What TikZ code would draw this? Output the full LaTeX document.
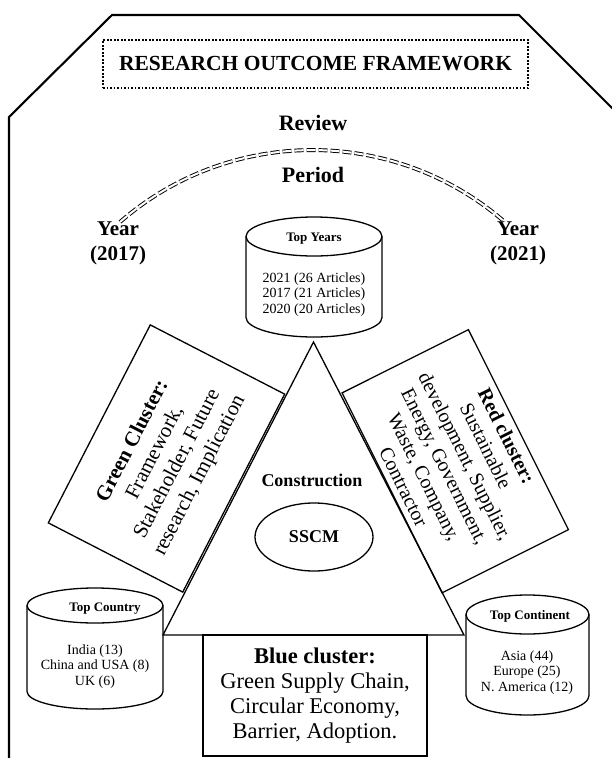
\documentclass[tikz,border=0pt]{standalone}
\usepackage{fontspec}
\setmainfont{Liberation Serif}
\usetikzlibrary{shapes.geometric}
\newcommand\fsz[2]{\fontsize{#1}{#2}\selectfont}
\newcommand\mycyl[6]{%
  \draw[outline] (#2-#5,#3) -- (#2-#5,#4) arc[start angle=180,end angle=0,x radius=#5,y radius=#6] -- (#2+#5,#3);
  \draw[outline] (#2,#3) ellipse[x radius=#5,y radius=#6];
  \coordinate (#1) at (#2,#3);}
\begin{document}
\begin{tikzpicture}[x=1pt,y=-1pt,
  frame/.style={line width=2.1pt, line join=miter},
  outline/.style={line width=1.3pt},
  titlebox/.style={draw, line width=1.7pt, dash pattern=on 1.7pt off 1.8pt, minimum width=425pt, minimum height=48pt, inner sep=0pt},
  arcline/.style={double, double distance=2pt, line width=0.95pt, dash pattern=on 9pt off 3pt},
  rectbox/.style={draw, line width=1.3pt, align=center, inner sep=0pt},
  bigbold/.style={font=\fsz{22}{25}\bfseries, align=center, inner sep=0pt},
  yearlbl/.style={font=\fsz{21}{25}\bfseries, align=center, inner sep=0pt},
  cyltitle/.style={font=\fsz{13}{15}\bfseries, inner sep=0pt},
  cyltext/.style={font=\fsz{14}{15.5}, align=center, inner sep=0pt}]
\useasboundingbox (0,0) rectangle (612,758);
\clip (0,0) rectangle (612,758);
% outer frame
\draw[frame] (9,765) -- (9,117) -- (112,15) -- (519,15) -- (622,118);
% title
\node[titlebox, font=\fsz{21.5}{24}\bfseries] (title) at (315.5,64) {RESEARCH OUTCOME FRAMEWORK};
% review period
\node[bigbold] (review) at (313,123) {Review};
\node[bigbold] (period) at (313,175) {Period};
\coordinate (arcL) at (120,222);
\draw[arcline] (arcL) arc[start angle=229, end angle=311, radius=293.3] coordinate (arcR);
\node[yearlbl] (yearL) at (118,243) {Year\\(2017)};
\node[yearlbl] (yearR) at (518,243) {Year\\(2021)};
% top years cylinder
\mycyl{cylY}{314}{236.5}{317.5}{68}{19.5}
\node[cyltitle] (tyT) at (314,239) {Top Years};
\node[cyltext] (tyB) at (314,294.5) {2021 (26 Articles)\\2017 (21 Articles)\\2020 (20 Articles)};
% triangle
\coordinate (apex) at (313.5,342);
\coordinate (bl) at (163,635);
\coordinate (br) at (464,635);
\draw[outline] (apex) -- (bl) -- (br) -- cycle;
\node[font=\fsz{18}{20}\bfseries, inner sep=0pt] (constr) at (312,480) {Construction};
\node[ellipse, draw, outline, minimum width=118pt, minimum height=68pt, inner sep=0pt, font=\fsz{18}{20}\bfseries] (sscm) at (314,537) {SSCM};
% green cluster
\node[rectbox, rotate=62.75, minimum width=222.7pt, minimum height=151.2pt, font=\fsz{21}{25}] (green) at (166.5,458.5)
  {\textbf{Green Cluster:}\\Framework,\\Stakeholder, Future\\research, Implication};
% red cluster
\node[rectbox, rotate=-63.43, minimum width=223.6pt, minimum height=141.3pt, font=\fsz{20}{23}] (red) at (455.25,461.25)
  {\textbf{Red cluster:}\\Sustainable\\development, Supplier,\\Energy, Government,\\Waste, Company,\\Contractor};
% blue cluster
\node[rectbox, line width=1.6pt, minimum width=224pt, minimum height=121pt, font=\fsz{22.5}{25}] (blue) at (315,695.5)
  {\textbf{Blue cluster:}\\Green Supply Chain,\\Circular Economy,\\Barrier, Adoption.};
% top country cylinder
\mycyl{cylC}{95}{605.5}{691.5}{68}{17.5}
\node[cyltitle] (tcT) at (105,609) {Top Country};
\node[cyltext] (tcB) at (95,666.5) {India (13)\\China and USA (8)\\UK (6)};
% top continent cylinder
\mycyl{cylK}{527.5}{614.5}{695.5}{61.5}{19.5}
\node[cyltitle] (tkT) at (530,616) {Top Continent};
\node[cyltext] (tkB) at (527,672.5) {Asia (44)\\Europe (25)\\N. America (12)};
\end{tikzpicture}
\end{document}
